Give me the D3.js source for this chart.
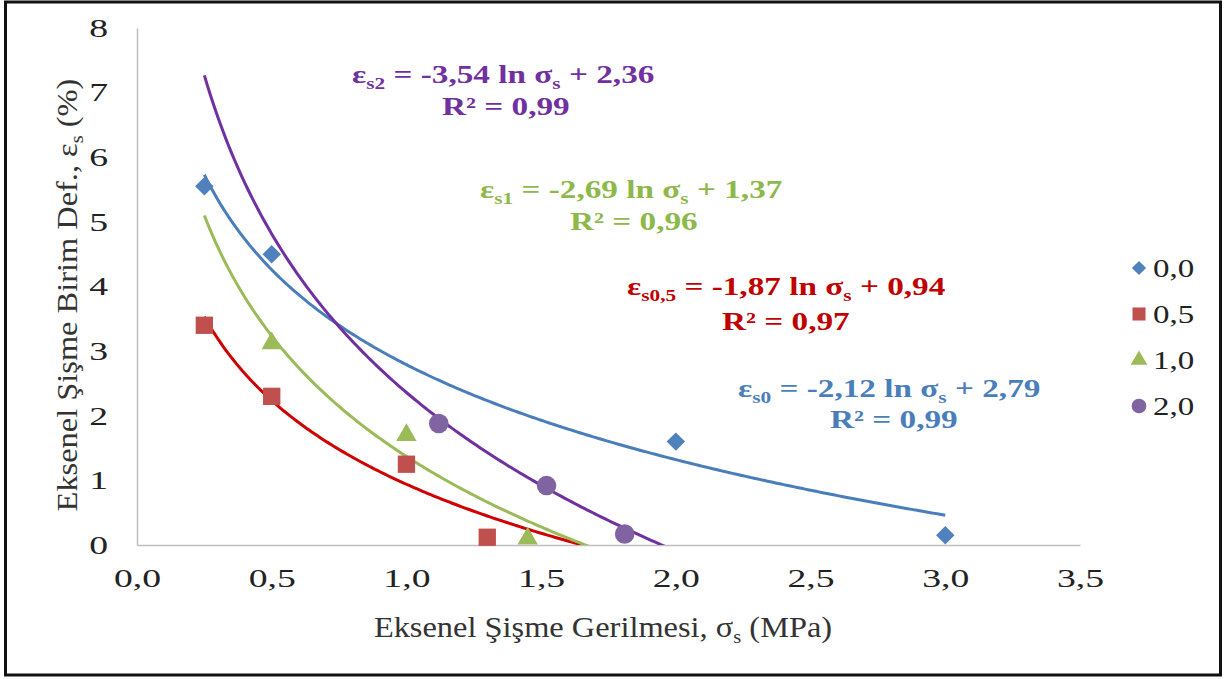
<!DOCTYPE html>
<html>
<head>
<meta charset="utf-8">
<script src="https://cdn.jsdelivr.net/npm/d3@7"></script>
<style>
  body { margin: 0; background: #fff; }
  svg text { font-family: 'Liberation Serif', 'Tinos', 'Times New Roman', 'DejaVu Serif', serif; }
</style>
</head>
<body>
<div id="container"></div>
<script>
/* DATA */
const seriesNames = ["0,0", "0,5", "1,0", "2,0"];

const sigma00 = [0.25, 0.5, 2.0, 3.0];
const eps00 = [5.55, 4.5, 1.6, 0.15];

const sigma05 = [0.25, 0.5, 1.0, 1.3];
const eps05 = [3.4, 2.3, 1.25, 0.12];

const sigma10 = [0.5, 1.0, 1.45];
const eps10 = [3.12, 1.7, 0.1];

const sigma20 = [1.12, 1.52, 1.81];
const eps20 = [1.88, 0.92, 0.17];

// log trendlines: eps = a ln(sigma) + b
const trendA = [-2.12, -1.87, -2.69, -3.54];
const trendB = [2.79, 0.94, 1.37, 2.36];
const trendR2 = ["0,99", "0,97", "0,96", "0,99"];
const trendFrom = [0.25, 0.25, 0.25, 0.25];
const trendTo = [3.0, 2.0, 2.0, 2.0];

const xTicks = [0, 0.5, 1, 1.5, 2, 2.5, 3, 3.5];
const yTicks = [0, 1, 2, 3, 4, 5, 6, 7, 8];

/* CONSTANTS */
const width = 1227;
const height = 679;
const plot = { left: 137, right: 1080, top: 28, bottom: 545 };
const tickStretch = 1.45;

const markerColors = ["#4F81BD", "#C0504D", "#9BBB59", "#8064A2"];
const lineColors = ["#4A7EBB", "#D00000", "#9BBB59", "#7030A0"];
const textColors = ["#4A7EBB", "#C00000", "#8DB84A", "#7030A0"];
const subs = ["s0", "s0,5", "s1", "s2"];

const series = [
  { x: sigma00, y: eps00 },
  { x: sigma05, y: eps05 },
  { x: sigma10, y: eps10 },
  { x: sigma20, y: eps20 }
];

const svg = d3.select("#container")
  .append("svg")
  .attr("width", width)
  .attr("height", height)

// text placed at x,y and stretched sideways like the original picture
function stretchedText(x, y, sx, rot = 0) {
  return svg.append("g")
    .attr("transform", `translate(${x}, ${y}) rotate(${rot}) scale(${sx}, 1)`)
    .append("text")
}

// outer frame
svg.append("rect")
  .attr("x", 5.5).attr("y", 2)
  .attr("width", 1215).attr("height", 673)
  .attr("fill", "none")
  .attr("stroke", "#111")
  .attr("stroke-width", 3)

const xScale = d3.scaleLinear().domain([0, 3.5]).range([plot.left, plot.right])
const yScale = d3.scaleLinear().domain([0, 8]).range([plot.bottom, plot.top])

const loc = d3.formatLocale({ decimal: ",", thousands: ".", grouping: [3], currency: ["", ""], minus: "-" })

const xAxis = d3.axisBottom(xScale).tickValues(xTicks).tickSize(0).tickPadding(24).tickFormat(loc.format(".1f"))
const gx = svg.append("g")
  .attr("transform", `translate(0, ${plot.bottom})`)
  .call(xAxis)

const yAxis = d3.axisLeft(yScale).tickValues(yTicks).tickSize(0).tickPadding(29).tickFormat(d3.format("d"))
const gy = svg.append("g")
  .attr("transform", `translate(${plot.left}, 0)`)
  .call(yAxis)

for (const g of [gx, gy]) {
  g.attr("font-family", null)
  g.select(".domain").attr("stroke", "#BFBFBF").attr("stroke-width", 1.5)
  g.selectAll(".tick text")
    .attr("font-size", 26)
    .attr("fill", "#222")
    .attr("transform", `scale(${tickStretch}, 1)`)
}
gy.selectAll(".tick text").attr("x", -29 / tickStretch)

// axis titles
const xt = stretchedText(603, 637, 1.08)
  .attr("text-anchor", "middle")
  .attr("font-size", 30)
  .attr("fill", "#333")
xt.append("tspan").text("Eksenel Şişme Gerilmesi, σ")
xt.append("tspan").text("s").attr("font-size", 19).attr("dy", 6)
xt.append("tspan").text(" (MPa)").attr("dy", -6)

const yt = stretchedText(77, 295, 1.08, -90)
  .attr("text-anchor", "middle")
  .attr("font-size", 30)
  .attr("fill", "#333")
yt.append("tspan").text("Eksenel Şişme Birim Def., ε")
yt.append("tspan").text("s").attr("font-size", 19).attr("dy", 6)
yt.append("tspan").text(" (%)").attr("dy", -6)

// trendlines
svg.append("clipPath").attr("id", "clip")
  .append("rect")
  .attr("x", plot.left).attr("y", 0)
  .attr("width", plot.right - plot.left).attr("height", plot.bottom)

const line = d3.line().x(d => xScale(d[0])).y(d => yScale(d[1]))

trendA.forEach((a, i) => {
  const xs = d3.range(trendFrom[i], trendTo[i] + 1e-9, 0.01)
  svg.append("path")
    .attr("clip-path", "url(#clip)")
    .attr("d", line(xs.map(x => [x, a * Math.log(x) + trendB[i]])))
    .attr("fill", "none")
    .attr("stroke", lineColors[i])
    .attr("stroke-width", 3)
})

// markers
const symbols = [
  d3.symbol().type(d3.symbolSquare).size(170),
  d3.symbol().type(d3.symbolSquare).size(300),
  d3.symbol().type(d3.symbolTriangle).size(180),
  d3.symbol().type(d3.symbolCircle).size(300)
]
const rotations = [45, 0, 0, 0]

series.forEach((s, i) => {
  svg.selectAll(".pt" + i)
    .data(s.x.map((x, j) => [x, s.y[j]]))
    .join("path")
    .attr("class", "pt" + i)
    .attr("transform", d => `translate(${xScale(d[0])}, ${yScale(d[1])}) rotate(${rotations[i]})`)
    .attr("d", symbols[i])
    .attr("fill", markerColors[i])
})

// equation labels
const labelPos = [
  { x1: 738, y1: 397, x2: 830, y2: 428 },
  { x1: 627, y1: 295, x2: 722, y2: 330 },
  { x1: 480, y1: 198, x2: 570, y2: 230 },
  { x1: 352, y1: 83, x2: 442, y2: 115 }
]
const eqStretch = 1.33
const fmt2 = loc.format(".2f")

labelPos.forEach((p, i) => {
  const t = stretchedText(p.x1, p.y1, eqStretch)
    .attr("font-size", 25)
    .attr("font-weight", "bold")
    .attr("fill", textColors[i])
  t.append("tspan").text("ε")
  t.append("tspan").text(subs[i]).attr("font-size", 16).attr("dy", 6)
  t.append("tspan").text(` = ${fmt2(trendA[i])} ln σ`).attr("dy", -6)
  t.append("tspan").text("s").attr("font-size", 16).attr("dy", 6)
  t.append("tspan").text(` + ${fmt2(trendB[i])}`).attr("dy", -6)

  stretchedText(p.x2, p.y2, eqStretch)
    .attr("font-size", 25)
    .attr("font-weight", "bold")
    .attr("fill", textColors[i])
    .text(`R² = ${trendR2[i]}`)
})

// legend
const legendY = [268, 314, 360, 406]
const legendSymbols = [
  d3.symbol().type(d3.symbolSquare).size(100),
  d3.symbol().type(d3.symbolSquare).size(170),
  d3.symbol().type(d3.symbolTriangle).size(120),
  d3.symbol().type(d3.symbolCircle).size(170)
]
seriesNames.forEach((name, i) => {
  svg.append("path")
    .attr("transform", `translate(1139, ${legendY[i]}) rotate(${rotations[i]})`)
    .attr("d", legendSymbols[i])
    .attr("fill", markerColors[i])
  stretchedText(1153, legendY[i] + 9, 1.32)
    .attr("font-size", 25)
    .attr("fill", "#222")
    .text(name)
})
</script>
</body>
</html>
